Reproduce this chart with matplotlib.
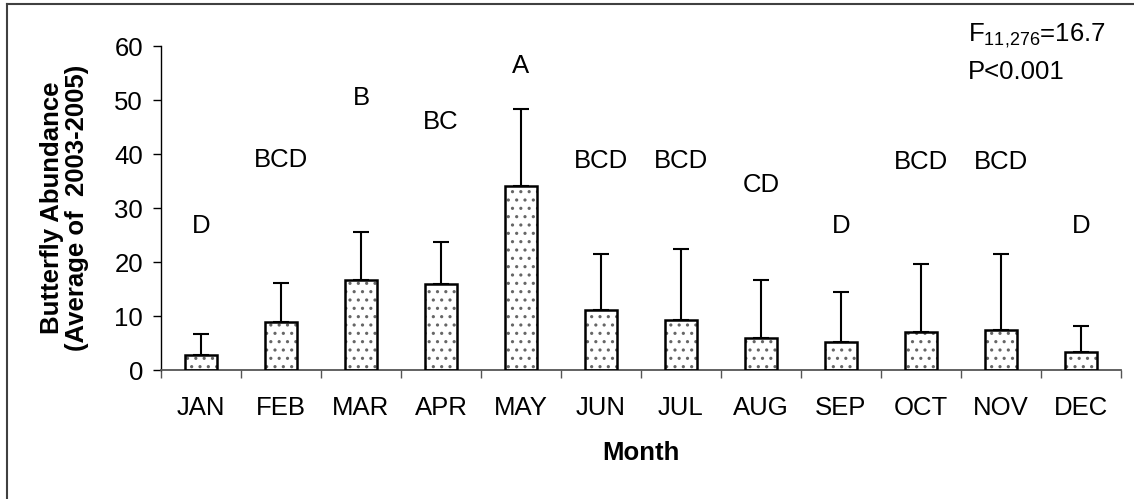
import matplotlib
matplotlib.use("Agg")
import matplotlib.pyplot as plt
import numpy as np
from matplotlib.lines import Line2D

plt.rcParams['font.family'] = ['Liberation Sans', 'DejaVu Sans']
plt.rcParams['mathtext.fontset'] = 'custom'
plt.rcParams['mathtext.rm'] = 'Liberation Sans'
plt.rcParams['mathtext.it'] = 'Liberation Sans'
plt.rcParams['hatch.linewidth'] = 1.1

months = ['JAN', 'FEB', 'MAR', 'APR', 'MAY', 'JUN',
          'JUL', 'AUG', 'SEP', 'OCT', 'NOV', 'DEC']
means = [2.7, 8.9, 16.7, 15.9, 34.1, 11.1, 9.3, 6.0, 5.2, 7.1, 7.5, 3.4]
upper_err = [4.0, 7.3, 8.8, 7.8, 14.3, 10.4, 13.2, 10.7, 9.2, 12.5, 14.0, 4.8]
groups = ['D', 'BCD', 'B', 'BC', 'A', 'BCD', 'BCD', 'CD', 'D', 'BCD', 'BCD', 'D']
group_y = [26.7, 38.9, 50.3, 46.0, 56.3, 38.7, 38.7, 34.3, 26.7, 38.6, 38.6, 26.7]

FS = 18.5

fig = plt.figure(figsize=(11.34, 4.99), dpi=100)
ax = fig.add_axes([161 / 1134, 1 - 370 / 499, 960 / 1134, 324 / 499])

x = np.arange(len(months))
width = 0.4

# patterned fill, then a solid black outline on top
ax.bar(x, means, width, color='white', edgecolor='#666666', hatch='..',
       linewidth=0, zorder=2)
ax.bar(x, means, width, color='none', edgecolor='black', linewidth=1.8,
       zorder=3)
ax.errorbar(x, means, yerr=[np.zeros(len(means)), upper_err], fmt='none',
            ecolor='black', elinewidth=1.5, capsize=5.8, capthick=1.5,
            zorder=1)

for xi, g, gy in zip(x, groups, group_y):
    ax.text(xi, gy, g, ha='center', va='center', fontsize=18.5)

ax.set_xlim(-0.5, 11.5)
ax.set_ylim(0, 60)
ax.set_yticks(np.arange(0, 61, 10))
ax.set_xticks(x)
ax.set_xticklabels(months)
ax.set_xticks(np.arange(-0.5, 12, 1), minor=True)
ax.tick_params(axis='x', which='major', length=0, pad=19, labelsize=FS)
ax.tick_params(axis='x', which='minor', length=6, width=1, color='#555555',
               direction='out')
ax.tick_params(axis='y', length=6, width=1, direction='out', pad=7,
               labelsize=FS)

for s in ['top', 'right']:
    ax.spines[s].set_visible(False)
ax.spines['left'].set_linewidth(1)
ax.spines['bottom'].set_linewidth(1.3)
ax.spines['bottom'].set_color('#555555')

ax.set_xlabel('Month', fontsize=FS, fontweight='bold', labelpad=15)
ax.set_ylabel('Butterfly Abundance\n(Average of  2003-2005)', fontsize=FS,
              fontweight='bold', linespacing=1.05, labelpad=18)

fig.text(968 / 1134, 1 - 36 / 499, r'F$_{11{,}276}$=16.7', fontsize=FS,
         ha='left', va='center')
fig.text(968 / 1134, 1 - 72 / 499, 'P<0.001', fontsize=FS,
         ha='left', va='center')

# frame around the figure (top and left edges)
fig.add_artist(Line2D([7 / 1134, 7 / 1134], [-0.05, 1 - 4 / 499],
                      transform=fig.transFigure, color='#404040', lw=1.5))
fig.add_artist(Line2D([7 / 1134, 1.05], [1 - 4 / 499, 1 - 4 / 499],
                      transform=fig.transFigure, color='#404040', lw=1.5))

fig.savefig('out.png', dpi=100)
